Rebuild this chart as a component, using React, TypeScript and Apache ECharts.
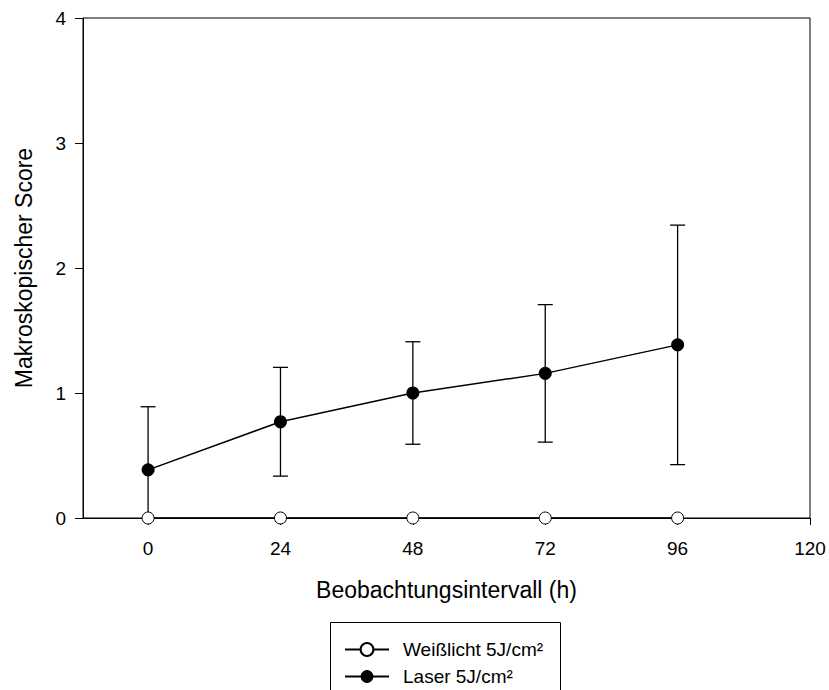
import React, { useEffect, useRef } from "react";
import * as echarts from "echarts";

const hours = [0, 24, 48, 72, 96];
const weisslicht = [0, 0, 0, 0, 0];
const laserMean = [0.385, 0.77, 1.0, 1.157, 1.385];
const laserSD = [0.505, 0.435, 0.41, 0.55, 0.958];
const xTicks = [0, 24, 48, 72, 96, 120];
const seriesNames = ["Weißlicht 5J/cm²", "Laser 5J/cm²"];

const FONT = "'Liberation Sans', Arial, sans-serif";

export default function App() {
  const ref = useRef<HTMLDivElement>(null);
  useEffect(() => {
    if (!ref.current) return;
    const chart = echarts.init(ref.current, null, { renderer: "svg" });
    const errData = hours.map((h, i) => [h, laserMean[i] - laserSD[i], laserMean[i] + laserSD[i]]);
    chart.setOption({
      animation: false,
      backgroundColor: "#fff",
      textStyle: { fontFamily: FONT, color: "#000" },
      grid: {
        left: 83, right: 19, top: 18, bottom: 172,
        outerBoundsMode: "none",
        containLabel: false,
        show: true, borderColor: "#000", borderWidth: 1, backgroundColor: "transparent",
      },
      legend: {
        orient: "vertical",
        left: 344,
        top: 640,
        itemWidth: 44,
        itemHeight: 16,
        itemGap: 8,
        padding: 0,
        textStyle: { fontSize: 19, color: "#000", fontFamily: FONT, padding: [0, 0, 0, 9] },
        data: seriesNames,
      },
      graphic: [
        {
          type: "rect",
          shape: { x: 330.5, y: 622.5, width: 230, height: 100 },
          style: { fill: "none", stroke: "#000", lineWidth: 1 },
          silent: true,
        },
      ],
      xAxis: {
        type: "value",
        min: -11.8,
        max: 120,
        name: "Beobachtungsintervall (h)",
        nameLocation: "middle",
        nameGap: 60,
        nameTextStyle: { fontSize: 23, color: "#000", fontFamily: FONT },
        axisLine: { show: true, onZero: false, lineStyle: { color: "#000", width: 1 } },
        axisTick: { show: true, customValues: xTicks, length: 7, lineStyle: { color: "#000" } },
        axisLabel: { customValues: xTicks, fontSize: 19, color: "#000", margin: 21, fontFamily: FONT },
        splitLine: { show: false },
      },
      yAxis: {
        type: "value",
        min: 0,
        max: 4,
        interval: 1,
        name: "Makroskopischer Score",
        nameLocation: "middle",
        nameGap: 48,
        nameTextStyle: { fontSize: 23, color: "#000", fontFamily: FONT },
        axisLine: { show: true, onZero: false, lineStyle: { color: "#000", width: 1 } },
        axisTick: { show: true, length: 8, lineStyle: { color: "#000" } },
        axisLabel: { fontSize: 19, color: "#000", margin: 17, fontFamily: FONT },
        splitLine: { show: false },
      },
      series: [
        {
          type: "custom",
          name: "err",
          data: errData,
          z: 1,
          clip: true,
          renderItem: (params: any, api: any) => {
            const x = api.value(0);
            const lo = api.value(1);
            const hi = api.value(2);
            const loC = Math.max(lo, 0);
            const pHi = api.coord([x, hi]);
            const pLo = api.coord([x, loC]);
            const hw = 7.5;
            const st = { stroke: "#000", lineWidth: 1.3 };
            const children: any[] = [
              { type: "line", shape: { x1: pHi[0], y1: pHi[1], x2: pLo[0], y2: pLo[1] }, style: st },
              { type: "line", shape: { x1: pHi[0] - hw, y1: pHi[1], x2: pHi[0] + hw, y2: pHi[1] }, style: st },
            ];
            if (lo > 0) {
              children.push({ type: "line", shape: { x1: pLo[0] - hw, y1: pLo[1], x2: pLo[0] + hw, y2: pLo[1] }, style: st });
            }
            return { type: "group", children };
          },
        },
        {
          type: "line",
          name: seriesNames[0],
          data: hours.map((h, i) => [h, weisslicht[i]]),
          symbol: "circle",
          symbolSize: 12,
          showAllSymbol: true,
          z: 3,
          lineStyle: { color: "#000", width: 1.5 },
          itemStyle: { color: "#fff", borderColor: "#000", borderWidth: 1 },
        },
        {
          type: "line",
          name: seriesNames[1],
          data: hours.map((h, i) => [h, laserMean[i]]),
          symbol: "circle",
          symbolSize: 13,
          showAllSymbol: true,
          z: 4,
          lineStyle: { color: "#000", width: 1.5 },
          itemStyle: { color: "#000", borderColor: "#000", borderWidth: 0 },
        },
      ],
    });
    return () => chart.dispose();
  }, []);
  return (
    <div
      ref={ref}
      style={{ position: "fixed", left: 0, top: 0, width: 829, height: 690, background: "#fff" }}
    />
  );
}
